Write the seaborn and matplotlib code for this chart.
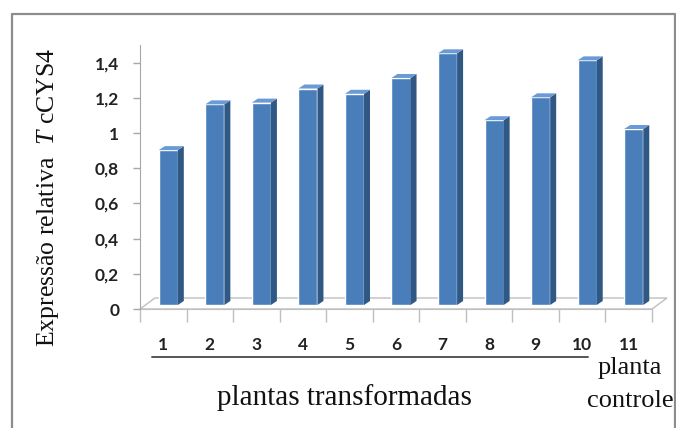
import numpy as np
import pandas as pd
import seaborn as sns
import matplotlib.pyplot as plt
from matplotlib.patches import Polygon
from matplotlib.lines import Line2D

categories = ["1", "2", "3", "4", "5", "6", "7", "8", "9", "10", "11"]
expression = [0.88, 1.14, 1.15, 1.23, 1.20, 1.29, 1.43, 1.05, 1.18, 1.39, 1.00]
ytick_values = [0, 0.2, 0.4, 0.6, 0.8, 1.0, 1.2, 1.4]
ytick_labels = ["0", "0,2", "0,4", "0,6", "0,8", "1", "1,2", "1,4"]

sns.set_style("white")
plt.rcParams['font.family'] = ['Liberation Serif', 'DejaVu Serif']
plt.rcParams['mathtext.fontset'] = 'custom'
plt.rcParams['mathtext.it'] = 'Liberation Serif:italic'
plt.rcParams['mathtext.rm'] = 'Liberation Serif'

front = "#4a7ebb"
side = "#2f5885"
top = "#6b9bd6"
grid_gray = "#bfbfbf"

fig = plt.figure(figsize=(6.76, 4.28), dpi=100)
W, H = 676, 428
ax = fig.add_axes([140 / W, (H - 309) / H, 512 / W, 264 / H])

df = pd.DataFrame({"cat": categories, "val": expression})
sns.barplot(data=df, x="cat", y="val", color=front, saturation=1, width=0.41, ax=ax, zorder=3)
ax.set_xlim(-0.5, 10.5)
ax.set_ylim(0, 1.5)

# pixel -> data conversion
px_x = 11 / 512
px_y = 1.5 / 264

# 3D floor
fx, fy = 15 * px_x, 11 * px_y
floor = Polygon([(-0.5, 0), (10.5, 0), (10.5 + fx, fy), (-0.5 + fx, fy)], closed=True,
                facecolor="white", edgecolor=grid_gray, lw=1, zorder=1, clip_on=False)
ax.add_patch(floor)

# shift bars to mid depth and add side / top faces
bx, by = 5 * px_x, 4 * px_y
dx, dy = 6 * px_x, 4 * px_y
for p in list(ax.patches):
    if p is floor:
        continue
    x0 = p.get_x() + bx
    w = p.get_width()
    h = p.get_height()
    p.set_x(x0)
    p.set_y(by)
    x1 = x0 + w
    y0, y1 = by, by + h
    ax.add_patch(Polygon([(x1, y0), (x1 + dx, y0 + dy), (x1 + dx, y1 + dy), (x1, y1)],
                         closed=True, facecolor=side, edgecolor="none", zorder=3, clip_on=False))
    ax.add_patch(Polygon([(x0, y1), (x1, y1), (x1 + dx, y1 + dy), (x0 + dx, y1 + dy)],
                         closed=True, facecolor=top, edgecolor="none", zorder=3, clip_on=False))

for s in ["top", "right"]:
    ax.spines[s].set_visible(False)
ax.spines["left"].set_color("#a6a6a6")
ax.spines["bottom"].set_color(grid_gray)
ax.spines["left"].set_zorder(4)

ax.set_yticks(ytick_values)
ax.set_yticklabels(ytick_labels, fontfamily="Lato", fontweight="bold", fontsize=12.5, color="#222222")
ax.tick_params(axis="y", direction="out", length=5, width=1, color="#a6a6a6", pad=10, left=True)

ax.set_xticks(np.arange(len(categories)))
ax.set_xticklabels(categories, fontfamily="Lato", fontweight="bold", fontsize=12.5, color="#222222")
ax.set_xticks(np.arange(-0.5, len(categories), 1), minor=True)
ax.tick_params(axis="x", which="major", length=0, pad=20)
ax.tick_params(axis="x", which="minor", direction="out", length=9, width=1, color=grid_gray, bottom=True)
ax.set_xlabel("")
ax.set_ylabel("")

fig.text(48 / W, 1 - 197 / H, "Expressão relativa  $\\it{T}$ cCYS4", rotation=90,
         ha="center", va="center", fontsize=18.5, color="#111111")

fig.text(344 / W, 1 - 398 / H, "plantas transformadas", ha="center", va="center",
         fontsize=21, color="#111111")
fig.text(630 / W, 1 - 368 / H, "planta", ha="center", va="center", fontsize=19, color="#111111")
fig.text(630 / W, 1 - 401 / H, "controle", ha="center", va="center", fontsize=19, color="#111111")

fig.add_artist(Line2D([152 / W, 588 / W], [1 - 357 / H, 1 - 357 / H], color="#555555", lw=1.4))

# outer frame (open at the bottom)
frame_c = "#8c8c8c"
fig.add_artist(Line2D([12 / W, 12 / W, 675 / W, 675 / W], [0, 1 - 14 / H, 1 - 14 / H, 0],
                      color=frame_c, lw=1.6))

fig.savefig("out.png", dpi=100)
